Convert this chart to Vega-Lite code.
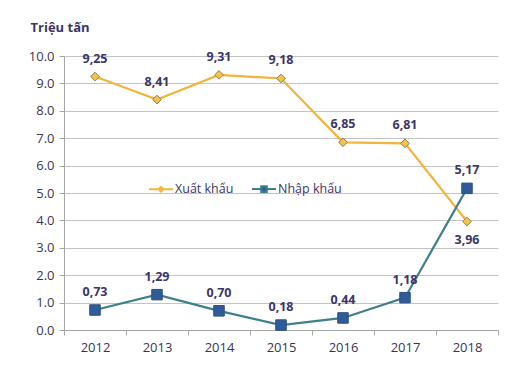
{
  "$schema": "https://vega.github.io/schema/vega-lite/v6.json",
  "width": 434,
  "height": 274,
  "autosize": {"type": "none"},
  "padding": {"left": 64, "top": 56, "right": 24, "bottom": 40},
  "background": "white",
  "config": {
    "view": {"stroke": null},
    "font": "Open Sans",
    "axis": {"labelFont": "Open Sans", "labelFontSize": 13, "labelColor": "#3a3550", "domainColor": "#a6a6a6", "tickColor": "#a6a6a6", "gridColor": "#c4c4c4"}
  },
  "data": {
    "values": [
      {"year": "2012", "series": "Xuất khẩu", "value": 9.25},
      {"year": "2013", "series": "Xuất khẩu", "value": 8.41},
      {"year": "2014", "series": "Xuất khẩu", "value": 9.31},
      {"year": "2015", "series": "Xuất khẩu", "value": 9.18},
      {"year": "2016", "series": "Xuất khẩu", "value": 6.85},
      {"year": "2017", "series": "Xuất khẩu", "value": 6.81},
      {"year": "2018", "series": "Xuất khẩu", "value": 3.96},
      {"year": "2012", "series": "Nhập khẩu", "value": 0.73},
      {"year": "2013", "series": "Nhập khẩu", "value": 1.29},
      {"year": "2014", "series": "Nhập khẩu", "value": 0.70},
      {"year": "2015", "series": "Nhập khẩu", "value": 0.18},
      {"year": "2016", "series": "Nhập khẩu", "value": 0.44},
      {"year": "2017", "series": "Nhập khẩu", "value": 1.18},
      {"year": "2018", "series": "Nhập khẩu", "value": 5.17}
    ]
  },
  "transform": [
    {"calculate": "replace(format(datum.value, '.2f'), '.', ',')", "as": "label"}
  ],
  "encoding": {
    "x": {
      "field": "year", "type": "ordinal", "sort": null,
      "scale": {"paddingInner": 0, "paddingOuter": 0},
      "axis": {"title": null, "labelAngle": 0, "tickBand": "extent", "tickSize": 5, "labelPadding": 6, "grid": false}
    },
    "y": {
      "field": "value", "type": "quantitative",
      "scale": {"domain": [0, 10], "nice": false},
      "axis": {
        "values": [0, 1, 2, 3, 4, 5, 6, 7, 8, 9, 10],
        "format": ".1f",
        "tickSize": 5,
        "labelPadding": 5,
        "grid": true,
        "title": "Triệu tấn",
        "titleAngle": 0,
        "titleAlign": "left",
        "titleBaseline": "middle",
        "titleX": -34,
        "titleY": -29,
        "titleFont": "Open Sans",
        "titleFontSize": 13,
        "titleFontWeight": "bold",
        "titleColor": "#3d3566"
      }
    }
  },
  "layer": [
    {
      "mark": {"type": "line", "strokeWidth": 2.2},
      "encoding": {
        "color": {
          "field": "series", "type": "nominal",
          "scale": {"domain": ["Xuất khẩu", "Nhập khẩu"], "range": ["#f2b43c", "#3f7f8c"]},
          "legend": {
            "title": null,
            "orient": "none",
            "direction": "horizontal",
            "legendX": 88,
            "legendY": 124,
            "labelFont": "Open Sans",
            "labelFontSize": 12.5,
            "labelColor": "#3d3566",
            "symbolSize": 256,
            "symbolStrokeWidth": 2,
            "columnPadding": 14,
            "labelOffset": 5,
            "encode": {
              "symbols": {
                "update": {
                  "shape": {"signal": "datum.value === 'Xuất khẩu' ? 'M-1.5,0H-0.3M0.3,0H1.5M0,-0.3L0.3,0L0,0.3L-0.3,0Z' : 'M-1.5,0H-0.35M0.35,0H1.5M-0.35,-0.35H0.35V0.35H-0.35Z'"},
                  "fill": {"signal": "datum.value === 'Xuất khẩu' ? '#f5c24a' : '#2f5c99'"},
                  "stroke": {"signal": "datum.value === 'Xuất khẩu' ? '#f2b43c' : '#3f7f8c'"},
                  "strokeWidth": {"value": 2},
                  "opacity": {"value": 1}
                }
              }
            }
          }
        }
      }
    },
    {
      "transform": [{"filter": "datum.series === 'Xuất khẩu'"}],
      "mark": {"type": "point", "shape": "diamond", "filled": true, "fill": "#f5c24a", "stroke": "#8f8058", "strokeWidth": 1, "size": 75, "opacity": 1}
    },
    {
      "transform": [{"filter": "datum.series === 'Nhập khẩu'"}],
      "mark": {"type": "point", "shape": "square", "filled": true, "fill": "#2f5c99", "stroke": "#2a4f80", "strokeWidth": 1, "size": 110, "opacity": 1}
    },
    {
      "transform": [{"filter": "!(datum.series === 'Xuất khẩu' && datum.year === '2018')"}],
      "mark": {"type": "text", "dy": -18, "font": "Open Sans", "fontSize": 12.5, "fontWeight": "bold", "color": "#3d3566"},
      "encoding": {"text": {"field": "label"}}
    },
    {
      "transform": [{"filter": "datum.series === 'Xuất khẩu' && datum.year === '2018'"}],
      "mark": {"type": "text", "dy": 19, "font": "Open Sans", "fontSize": 12.5, "fontWeight": "bold", "color": "#3d3566"},
      "encoding": {"text": {"field": "label"}}
    }
  ]
}
